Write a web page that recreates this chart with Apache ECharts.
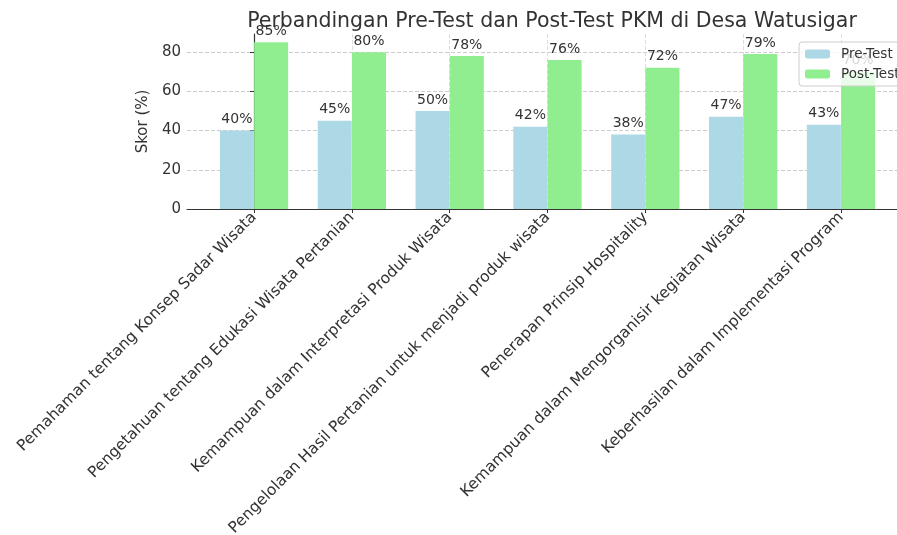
<!DOCTYPE html>
<html>
<head>
<meta charset="utf-8">
<script src="https://cdn.jsdelivr.net/npm/echarts@6/dist/echarts.min.js"></script>
<style>
    html, body { margin: 0; padding: 0; background: #fff; }
    #chart { width: 897px; height: 535px; }
</style>
</head>
<body>
<div id="chart"></div>
<script>
    // data
    var categories = [
        'Pemahaman tentang Konsep Sadar Wisata',
        'Pengetahuan tentang Edukasi Wisata Pertanian',
        'Kemampuan dalam Interpretasi Produk Wisata',
        'Pengelolaan Hasil Pertanian untuk menjadi produk wisata',
        'Penerapan Prinsip Hospitality',
        'Kemampuan dalam Mengorganisir kegiatan Wisata',
        'Keberhasilan dalam Implementasi Program'
    ];
    var preTest = [40, 45, 50, 42, 38, 47, 43];
    var postTest = [85, 80, 78, 76, 72, 79, 70];
    var yTicks = [0, 20, 40, 60, 80];

    var barOffset = 0.175; // half of bar width in category units
    var catIdx = categories.map(function (c, i) { return i; });

    var myChart = echarts.init(document.getElementById('chart'));
    var font = 'DejaVu Sans';

    var valueLabel = {
        show: true,
        position: 'top',
        distance: 4,
        fontFamily: font,
        fontSize: 14,
        color: '#333',
        formatter: function (p) { return p.value[1] + '%'; }
    };

    var option = {
        backgroundColor: '#fff',
        textStyle: { fontFamily: font },
        title: {
            text: 'Perbandingan Pre-Test dan Post-Test PKM di Desa Watusigar',
            left: 547,
            textAlign: 'center',
            top: 6,
            textStyle: { fontFamily: font, fontWeight: 'normal', fontSize: 20.5, color: '#333' }
        },
        legend: {
            orient: 'vertical',
            left: 799,
            top: 42,
            padding: [5, 8, 5, 6],
            itemGap: 6,
            itemWidth: 25,
            itemHeight: 9,
            backgroundColor: 'rgba(255,255,255,0.8)',
            borderColor: '#ccc',
            borderWidth: 1,
            borderRadius: 3,
            textStyle: { fontFamily: font, fontSize: 13.5, color: '#333', padding: [0, 0, 0, 6] },
            data: ['Pre-Test', 'Post-Test']
        },
        grid: {
            left: 187,
            right: -11,
            top: 34,
            bottom: 326,
            containLabel: false,
            outerBoundsMode: 'none'
        },
        xAxis: {
            type: 'value',
            min: -0.685,
            max: 6.685,
            axisLine: { show: true, lineStyle: { color: '#333', width: 1.2 } },
            axisTick: { show: true, customValues: catIdx, length: 4, lineStyle: { color: '#333' } },
            axisLabel: {
                customValues: catIdx,
                rotate: 45,
                margin: 6,
                fontFamily: font,
                fontSize: 15.5,
                color: '#333',
                formatter: function (v) { return categories[Math.round(v)]; }
            },
            splitLine: { show: true, lineStyle: { color: '#ddd', type: 'dashed' } }
        },
        yAxis: {
            type: 'value',
            min: 0,
            max: 89.25,
            interval: 20,
            name: 'Skor (%)',
            nameLocation: 'middle',
            nameRotate: 90,
            nameGap: 26,
            nameTextStyle: { fontFamily: font, fontSize: 15, color: '#333' },
            axisLine: { show: true, lineStyle: { color: '#333', width: 1.2 } },
            axisTick: { show: true, length: 4, customValues: yTicks, lineStyle: { color: '#333' } },
            axisLabel: {
                customValues: yTicks,
                fontFamily: font, fontSize: 15, color: '#333', margin: 6
            },
            splitLine: { show: true, lineStyle: { color: '#ccc', type: 'dashed' } }
        },
        series: [{
            name: 'Pre-Test',
            type: 'bar',
            barWidth: 34,
            barGap: '-100%',
            itemStyle: { color: '#add8e6' },
            label: valueLabel,
            data: preTest.map(function (v, i) { return [i - barOffset, v]; })
        }, {
            name: 'Post-Test',
            type: 'bar',
            barWidth: 34,
            barGap: '-100%',
            itemStyle: { color: '#90ee90' },
            label: valueLabel,
            data: postTest.map(function (v, i) { return [i + barOffset, v]; })
        }]
    };

    myChart.setOption(option);
    window.addEventListener('resize', function () {
        if (myChart) {
            myChart.resize();
        }
    });
</script>
</body>
</html>
